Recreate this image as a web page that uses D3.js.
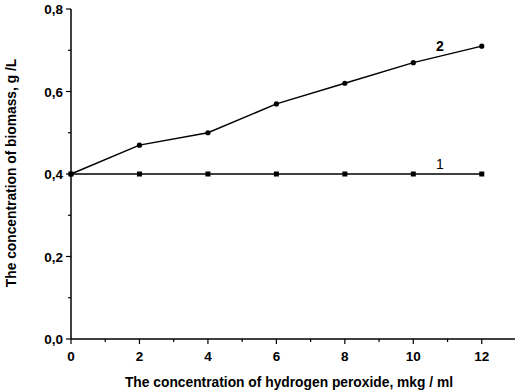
<!DOCTYPE html>
<meta charset="utf-8">
<script src="https://d3js.org/d3.v7.min.js"></script>
<style>
  body { margin: 0; background: #fff; }
  svg { display: block; font-family: "Liberation Sans", Arial, sans-serif; }
</style>
<body>
<div id="chart"></div>
<script>
// data
var peroxide = [0, 2, 4, 6, 8, 10, 12];
var biomass1 = [0.4, 0.4, 0.4, 0.4, 0.4, 0.4, 0.4];
var biomass2 = [0.4, 0.47, 0.5, 0.57, 0.62, 0.67, 0.71];
var xTicks = [0, 2, 4, 6, 8, 10, 12];
var yTicks = [0, 0.2, 0.4, 0.6, 0.8];

var width = 515, height = 392;

var svg = d3.select("#chart").append("svg")
  .attr("width", width)
  .attr("height", height);

var x = d3.scaleLinear().domain([0, 13]).range([71, 516]);
var y = d3.scaleLinear().domain([0, 0.8]).range([339, 9]);

var fmt = function (d) { return d3.format(".1f")(d).replace(".", ","); };

// x axis
var xAxis = svg.append("g").attr("transform", "translate(0," + y(0) + ")");
xAxis.append("line")
  .attr("x1", x(0)).attr("x2", x(13))
  .attr("stroke", "#000").attr("stroke-width", 1.5);
xAxis.selectAll(".minor")
  .data(d3.range(1, 13, 2))
  .enter().append("line")
  .attr("x1", function (d) { return x(d); })
  .attr("x2", function (d) { return x(d); })
  .attr("y1", 0).attr("y2", 3)
  .attr("stroke", "#000").attr("stroke-width", 1.2);
xAxis.selectAll(".major")
  .data(xTicks)
  .enter().append("line")
  .attr("x1", function (d) { return x(d); })
  .attr("x2", function (d) { return x(d); })
  .attr("y1", 0).attr("y2", 5)
  .attr("stroke", "#000").attr("stroke-width", 1.2);
xAxis.selectAll("text")
  .data(xTicks)
  .enter().append("text")
  .attr("x", function (d) { return x(d); })
  .attr("y", 22)
  .attr("text-anchor", "middle")
  .style("font-size", "13.5px")
  .style("font-weight", "bold")
  .text(function (d) { return d; });

// y axis
var yAxis = svg.append("g").attr("transform", "translate(" + x(0) + ",0)");
yAxis.append("line")
  .attr("y1", y(0)).attr("y2", y(0.8))
  .attr("stroke", "#000").attr("stroke-width", 1.5);
yAxis.selectAll(".minor")
  .data([0.1, 0.3, 0.5, 0.7])
  .enter().append("line")
  .attr("y1", function (d) { return y(d); })
  .attr("y2", function (d) { return y(d); })
  .attr("x1", 0).attr("x2", -3)
  .attr("stroke", "#000").attr("stroke-width", 1.2);
yAxis.selectAll(".major")
  .data(yTicks)
  .enter().append("line")
  .attr("y1", function (d) { return y(d); })
  .attr("y2", function (d) { return y(d); })
  .attr("x1", 0).attr("x2", -5)
  .attr("stroke", "#000").attr("stroke-width", 1.2);
yAxis.selectAll("text")
  .data(yTicks)
  .enter().append("text")
  .attr("x", -8)
  .attr("y", function (d) { return y(d) + 5; })
  .attr("text-anchor", "end")
  .style("font-size", "13.5px")
  .style("font-weight", "bold")
  .text(fmt);

// axis titles
svg.append("text")
  .attr("x", 289).attr("y", 387)
  .attr("text-anchor", "middle")
  .style("font-size", "13.8px")
  .style("font-weight", "bold")
  .text("The concentration of hydrogen peroxide, mkg / ml");

svg.append("text")
  .attr("transform", "translate(16,173) rotate(-90)")
  .attr("text-anchor", "middle")
  .style("font-size", "13.8px")
  .style("font-weight", "bold")
  .text("The concentration of biomass, g /L");

// lines
var line = d3.line()
  .x(function (d) { return x(d[0]); })
  .y(function (d) { return y(d[1]); });

var s1 = d3.zip(peroxide, biomass1);
var s2 = d3.zip(peroxide, biomass2);

svg.append("path").datum(s1)
  .attr("d", line).attr("fill", "none")
  .attr("stroke", "#000").attr("stroke-width", 1.5);
svg.append("path").datum(s2)
  .attr("d", line).attr("fill", "none")
  .attr("stroke", "#000").attr("stroke-width", 1.5);

svg.selectAll(".sq")
  .data(s1)
  .enter().append("rect")
  .attr("x", function (d) { return x(d[0]) - 2.5; })
  .attr("y", function (d) { return y(d[1]) - 2.5; })
  .attr("width", 5).attr("height", 5)
  .attr("fill", "#000");

svg.selectAll(".dot")
  .data(s2)
  .enter().append("circle")
  .attr("cx", function (d) { return x(d[0]); })
  .attr("cy", function (d) { return y(d[1]); })
  .attr("r", 2.6)
  .attr("fill", "#000");

// series labels
svg.append("text")
  .attr("x", x(10.78)).attr("y", y(0.697))
  .attr("text-anchor", "middle")
  .style("font-size", "14px")
  .style("font-weight", "bold")
  .text("2");

svg.append("text")
  .attr("x", x(10.78)).attr("y", y(0.412))
  .attr("text-anchor", "middle")
  .style("font-size", "14px")
  .style("fill", "#000")
  .text("1");
</script>
</body>
